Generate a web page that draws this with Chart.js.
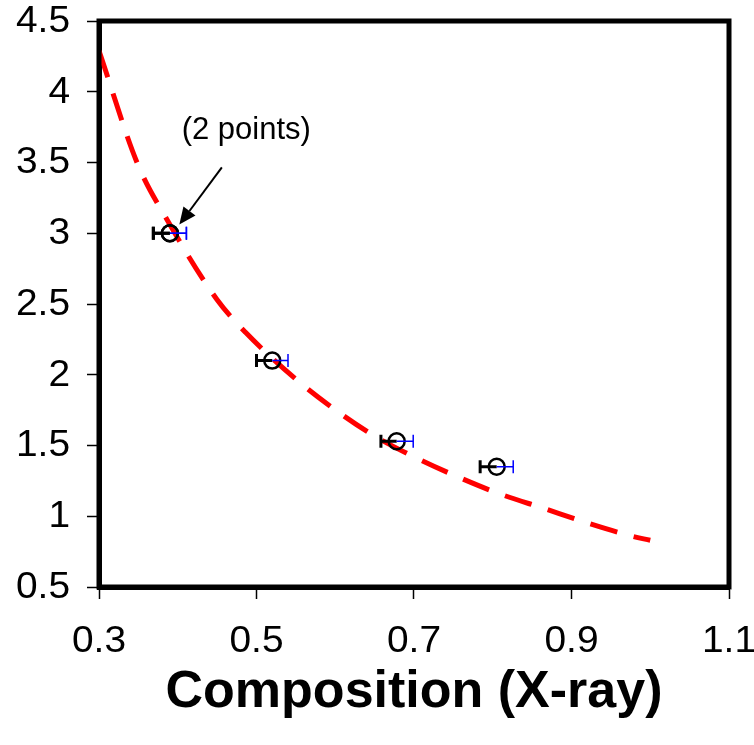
<!DOCTYPE html>
<html>
<head>
<meta charset="utf-8">
<script src="https://cdn.jsdelivr.net/npm/chart.js@4/dist/chart.umd.min.js"></script>
<style>
  html, body { margin: 0; padding: 0; background: #fff; }
  #wrap { width: 754px; height: 745px; }
</style>
</head>
<body>
<div id="wrap"><canvas id="chart" width="754" height="745"></canvas></div>
<script>
// 曲線（赤い破線）の読み取り値
const curveX = [0.30, 0.349, 0.387, 0.45, 0.486, 0.554, 0.603, 0.649, 0.70, 0.755, 0.808, 0.865, 0.92, 0.975, 1.0];
const curveY = [4.29, 3.49, 3.09, 2.53, 2.30, 1.95, 1.74, 1.57, 1.42, 1.28, 1.16, 1.055, 0.953, 0.862, 0.83];

// 測定点（最初の点は2点重なり）
const pointX = [0.39, 0.39, 0.52, 0.678, 0.805];
const pointY = [3.0, 3.0, 2.1, 1.53, 1.35];
const errMinus = [0.021, 0.021, 0.02, 0.02, 0.021];
const errPlus = [0.021, 0.021, 0.02, 0.021, 0.021];

// 軸の目盛り
const xTicks = [0.3, 0.5, 0.7, 0.9, 1.1];
const yTicks = [0.5, 1, 1.5, 2, 2.5, 3, 3.5, 4, 4.5];

// 注釈
const noteText = '(2 points)';
const notePos = [0.487, 3.73];
const arrowFrom = [0.456, 3.465];
const arrowTo = [0.402, 3.061];

const FONT = '"Liberation Sans", Arial, sans-serif';
const TICK_FONT = '36px ' + FONT;
const TICK_STRETCH = 1.08;   // 元画像の目盛り文字は少し横に伸びている

// 枠線（上・右も含む）
const framePlugin = {
  id: 'frame',
  afterDraw(chart) {
    const { ctx, chartArea: a } = chart;
    ctx.save();
    ctx.strokeStyle = '#000';
    ctx.lineWidth = 5;
    ctx.strokeRect(a.left, a.top, a.right - a.left, a.bottom - a.top);
    ctx.restore();
  }
};

// 目盛りラベル（横に伸ばして描く）
const tickLabelPlugin = {
  id: 'tickLabels',
  afterDraw(chart) {
    const { ctx, scales: { x, y } } = chart;
    ctx.save();
    ctx.fillStyle = '#000';
    ctx.font = TICK_FONT;
    ctx.textBaseline = 'middle';
    ctx.textAlign = 'right';
    y.ticks.forEach(t => {
      ctx.save();
      ctx.translate(70, y.getPixelForValue(t.value) + 1);
      ctx.scale(TICK_STRETCH, 1);
      ctx.fillText(String(t.value), 0, 0);
      ctx.restore();
    });
    ctx.textAlign = 'center';
    x.ticks.forEach(t => {
      ctx.save();
      ctx.translate(x.getPixelForValue(t.value), x.top + 55);
      ctx.scale(TICK_STRETCH, 1);
      ctx.fillText(String(t.value), 0, 0);
      ctx.restore();
    });
    ctx.restore();
  }
};

// 誤差棒：左側は黒、右側は青
const errorBarPlugin = {
  id: 'errorBars',
  afterDatasetsDraw(chart) {
    const { ctx, scales: { x, y } } = chart;
    ctx.save();
    pointX.forEach((px, i) => {
      const cx = x.getPixelForValue(px);
      const cy = y.getPixelForValue(pointY[i]);
      const xl = x.getPixelForValue(px - errMinus[i]);
      const xr = x.getPixelForValue(px + errPlus[i]);
      // 黒（マイナス側）
      ctx.strokeStyle = '#000';
      ctx.lineWidth = 3;
      ctx.beginPath();
      ctx.moveTo(cx, cy); ctx.lineTo(xl, cy);
      ctx.moveTo(xl, cy - 6.5); ctx.lineTo(xl, cy + 6.5);
      ctx.stroke();
      // 青（プラス側）
      ctx.strokeStyle = '#0000ff';
      ctx.lineWidth = 1.5;
      ctx.beginPath();
      ctx.moveTo(cx, cy); ctx.lineTo(xr, cy);
      ctx.moveTo(xr, cy - 6.5); ctx.lineTo(xr, cy + 6.5);
      ctx.stroke();
    });
    ctx.restore();
  }
};

// 注釈テキストと矢印
const notePlugin = {
  id: 'note',
  afterDraw(chart) {
    const { ctx, scales: { x, y } } = chart;
    ctx.save();
    ctx.fillStyle = '#000';
    ctx.font = '31px ' + FONT;
    ctx.textAlign = 'center';
    ctx.textBaseline = 'middle';
    ctx.fillText(noteText, x.getPixelForValue(notePos[0]), y.getPixelForValue(notePos[1]));

    const x1 = x.getPixelForValue(arrowFrom[0]), y1 = y.getPixelForValue(arrowFrom[1]);
    const x2 = x.getPixelForValue(arrowTo[0]), y2 = y.getPixelForValue(arrowTo[1]);
    const ang = Math.atan2(y2 - y1, x2 - x1);
    const headLen = 17, headW = 7.5;
    const bx = x2 - headLen * Math.cos(ang), by = y2 - headLen * Math.sin(ang);
    ctx.strokeStyle = '#000';
    ctx.lineWidth = 2;
    ctx.beginPath();
    ctx.moveTo(x1, y1);
    ctx.lineTo(bx, by);
    ctx.stroke();
    ctx.beginPath();
    ctx.moveTo(x2, y2);
    ctx.lineTo(bx + headW * Math.sin(ang), by - headW * Math.cos(ang));
    ctx.lineTo(bx - headW * Math.sin(ang), by + headW * Math.cos(ang));
    ctx.closePath();
    ctx.fill();
    ctx.restore();
  }
};

function initChart() {
  const ctx = document.getElementById('chart').getContext('2d');
  new Chart(ctx, {
    type: 'scatter',
    data: {
      datasets: [
        {
          label: 'fit',
          data: curveX.map((v, i) => ({ x: v, y: curveY[i] })),
          showLine: true,
          borderColor: '#ff0000',
          borderWidth: 5,
          borderDash: [28, 17],
          borderCapStyle: 'butt',
          pointRadius: 0,
          cubicInterpolationMode: 'monotone',
          order: 2
        },
        {
          label: 'data',
          data: pointX.map((v, i) => ({ x: v, y: pointY[i] })),
          showLine: false,
          pointStyle: 'circle',
          pointRadius: 8,
          pointBorderWidth: 2.5,
          pointBorderColor: '#000',
          pointBackgroundColor: 'rgba(0,0,0,0)',
          order: 1
        }
      ]
    },
    options: {
      responsive: false,
      animation: false,
      events: [],
      layout: { padding: { top: 21, right: 25, left: 0, bottom: 0 } },
      plugins: {
        legend: { display: false },
        tooltip: { enabled: false }
      },
      scales: {
        x: {
          type: 'linear',
          min: 0.3,
          max: 1.1,
          afterBuildTicks: (s) => { s.ticks = xTicks.map(v => ({ value: v })); },
          afterFit: (s) => {
            s.height = 158;
            s.paddingLeft = 0; s.paddingRight = 0; s.paddingTop = 0; s.paddingBottom = 0;
          },
          ticks: { display: false },
          grid: { drawOnChartArea: false, drawTicks: true, tickLength: 12, tickWidth: 1.5, tickColor: '#000' },
          border: { display: true, color: '#000', width: 5 },
          title: {
            display: true,
            text: 'Composition (X-ray)',
            color: '#000',
            font: { family: FONT, size: 52, weight: 'bold' },
            padding: { top: 0, bottom: 21 }
          }
        },
        y: {
          type: 'linear',
          min: 0.5,
          max: 4.5,
          afterBuildTicks: (s) => { s.ticks = yTicks.map(v => ({ value: v })); },
          afterFit: (s) => {
            s.width = 99;
            s.paddingLeft = 0; s.paddingRight = 0; s.paddingTop = 0; s.paddingBottom = 0;
          },
          ticks: { display: false },
          grid: { drawOnChartArea: false, drawTicks: true, tickLength: 12, tickWidth: 1.5, tickColor: '#000' },
          border: { display: true, color: '#000', width: 5 }
        }
      }
    },
    plugins: [errorBarPlugin, framePlugin, tickLabelPlugin, notePlugin]
  });
}

document.addEventListener('DOMContentLoaded', initChart);
</script>
</body>
</html>
